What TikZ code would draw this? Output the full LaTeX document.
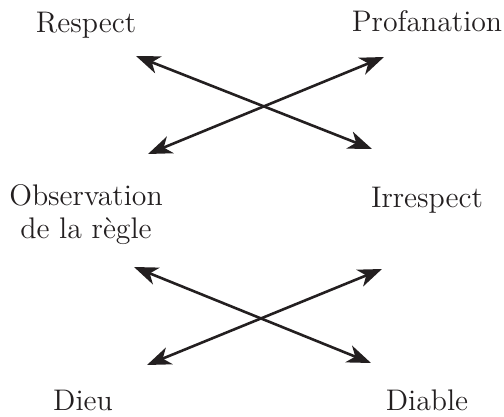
\documentclass[tikz,border=0pt]{standalone}
\renewcommand{\rmdefault}{ccr}
\usetikzlibrary{arrows.meta}
\definecolor{ink}{HTML}{231F20}
\begin{document}
\begin{tikzpicture}[x=0.5pt,y=-0.5pt,
  label/.style={anchor=base,inner sep=0pt,text=ink,font=\fontsize{14.9}{17}\selectfont,align=center},
  link/.style={draw=ink,line width=1.3pt,{Stealth[length=12pt,width=9pt,inset=3.5pt]}-{Stealth[length=12pt,width=9pt,inset=3.5pt]}}]
\useasboundingbox (0,0) rectangle (504,417);
% terms
\node[label] (respect) at (86,33) {Respect};
\node[label] (profanation) at (427,32) {Profanation};
\node[label] (observation) at (86,239) {Observation\\de la r\`egle};
\node[label] (irrespect) at (427,207) {Irrespect};
\node[label] (dieu) at (83,410) {Dieu};
\node[label] (diable) at (427,410) {Diable};
% arrow ends
\coordinate (a1) at (136,56);
\coordinate (a2) at (372,149);
\coordinate (b1) at (148,154);
\coordinate (b2) at (384,57);
\coordinate (c1) at (134,267);
\coordinate (c2) at (371,363);
\coordinate (d1) at (147,365);
\coordinate (d2) at (382,269);
% oppositions
\draw[link] (a1) -- (a2);
\draw[link] (b1) -- (b2);
\draw[link] (c1) -- (c2);
\draw[link] (d1) -- (d2);
\end{tikzpicture}
\end{document}
